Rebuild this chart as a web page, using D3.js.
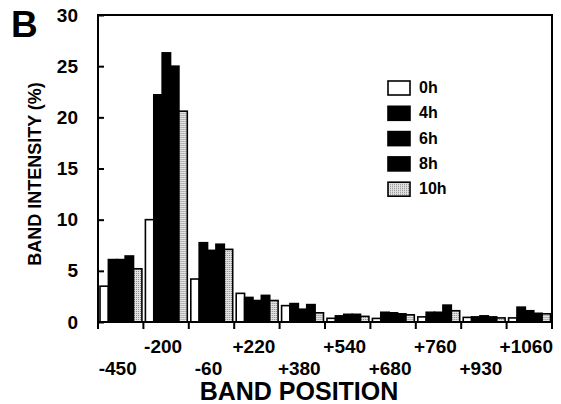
<!DOCTYPE html>
<html>
<head>
<meta charset="utf-8">
<script src="https://cdn.jsdelivr.net/npm/d3@7"></script>
<style>
  body { margin: 0; background: #fff; }
  svg { display: block; font-family: "Liberation Sans", Arial, sans-serif; font-weight: bold; }
</style>
</head>
<body>
<svg></svg>
<script>
// DATA

let positions = ["-450", "-200", "-60", "+220", "+380", "+540", "+680", "+760", "+930", "+1060"];
let series = ["0h", "4h", "6h", "8h", "10h"];
let v0h  = [3.5, 10.0, 4.2, 2.8, 1.6, 0.36, 0.35, 0.5, 0.45, 0.4];
let v4h  = [6.1, 22.2, 7.75, 2.4, 1.8, 0.6, 0.95, 0.95, 0.5, 1.45];
let v6h  = [6.1, 26.3, 7.0, 2.1, 1.25, 0.75, 0.9, 0.95, 0.6, 1.1];
let v8h  = [6.45, 25.0, 7.6, 2.6, 1.7, 0.75, 0.8, 1.65, 0.5, 0.85];
let v10h = [5.2, 20.6, 7.1, 2.1, 0.9, 0.55, 0.7, 1.1, 0.4, 0.8];
let yTicks = [0, 5, 10, 15, 20, 25, 30];

let valuesBySeries = {"0h": v0h, "4h": v4h, "6h": v6h, "8h": v8h, "10h": v10h};

// PAGE SETUP

let margin = {top: 15, left: 98, right: 9, bottom: 82};
let width = 561 - margin.left - margin.right;
let height = 404 - margin.top - margin.bottom;

let root = d3.select("svg")
  .attr("width", 561)
  .attr("height", 404);

// stipple pattern for the 10h series
let pat = root.append("defs").append("pattern")
  .attr("id", "stipple")
  .attr("patternUnits", "userSpaceOnUse")
  .attr("width", 2).attr("height", 2);
pat.append("rect").attr("width", 2).attr("height", 2).attr("fill", "#e2e2e2");
pat.append("rect").attr("width", 1).attr("height", 1).attr("fill", "#8a8a8a");

let svg = root.append("g")
  .attr("transform", `translate(${margin.left},${margin.top})`);

// SCALES

let x0 = d3.scaleBand().domain(positions).range([0, width]);
let x1 = d3.scaleBand().domain(series).range([2, x0.bandwidth() - 1.5]);
let y = d3.scaleLinear().domain([0, 30]).range([height, 0]);

let fillFor = s => s == "0h" ? "#fff" : (s == "10h" ? "url(#stipple)" : "#000");

// BARS

let groups = svg.selectAll(".group")
  .data(positions)
  .enter()
  .append("g")
  .attr("class", "group")
  .attr("transform", d => `translate(${x0(d)},0)`);

groups.selectAll("rect")
  .data((d, i) => series.map(s => ({s: s, v: valuesBySeries[s][i]})))
  .enter()
  .append("rect")
  .attr("x", d => x1(d.s))
  .attr("width", x1.bandwidth())
  .attr("y", d => y(d.v))
  .attr("height", d => y(0) - y(d.v))
  .attr("fill", d => fillFor(d.s))
  .attr("stroke", "#000")
  .attr("stroke-width", 1.6);

// FRAME AND AXES

svg.append("rect")
  .attr("width", width).attr("height", height)
  .attr("fill", "none")
  .attr("stroke", "#000")
  .attr("stroke-width", 2);

let yAxis = svg.append("g")
  .call(d3.axisLeft(y).tickValues(yTicks).tickSizeInner(-6).tickSizeOuter(0).tickPadding(20));
yAxis.select(".domain").remove();
yAxis.selectAll("line").attr("stroke-width", 2);
yAxis.selectAll("text")
  .attr("font-size", 19)
  .attr("font-weight", "bold")
  .attr("font-family", "Liberation Sans, Arial, sans-serif")
  .attr("fill", "#000");

// category boundary ticks on the bottom axis
let bounds = positions.map(p => x0(p)).concat([width]);
svg.selectAll(".xtick")
  .data(bounds)
  .enter()
  .append("line")
  .attr("class", "xtick")
  .attr("x1", d => d).attr("x2", d => d)
  .attr("y1", height).attr("y2", height + 7)
  .attr("stroke", "#000")
  .attr("stroke-width", 2);

// staggered category labels
svg.selectAll(".xlabel")
  .data(positions)
  .enter()
  .append("text")
  .attr("class", "xlabel")
  .attr("x", d => x0(d) + x0.bandwidth() / 2 - 3)
  .attr("y", (d, i) => i % 2 == 0 ? height + 53 : height + 31)
  .attr("text-anchor", "middle")
  .attr("font-size", 19)
  .text(d => d);

// AXIS TITLES

root.append("text")
  .attr("x", 299).attr("y", 400)
  .attr("text-anchor", "middle")
  .attr("font-size", 25)
  .text("BAND POSITION");

root.append("text")
  .attr("transform", "translate(41,174) rotate(-90)")
  .attr("text-anchor", "middle")
  .attr("font-size", 18)
  .text("BAND INTENSITY (%)");

root.append("text")
  .attr("x", 11).attr("y", 37)
  .attr("font-size", 37)
  .text("B");

// LEGEND

let legend = root.selectAll(".legend")
  .data(series)
  .enter()
  .append("g")
  .attr("class", "legend")
  .attr("transform", (d, i) => `translate(388,${81 + i * 25.3})`);

legend.append("rect")
  .attr("width", 22).attr("height", 14)
  .attr("fill", d => fillFor(d))
  .attr("stroke", "#000")
  .attr("stroke-width", 1.6);

legend.append("text")
  .attr("x", 31).attr("y", 12)
  .attr("font-size", 16)
  .text(d => d);
</script>
</body>
</html>
